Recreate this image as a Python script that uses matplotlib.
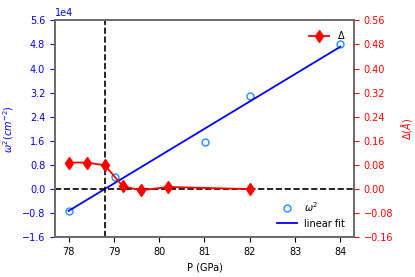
import numpy as np
import matplotlib
matplotlib.use("Agg")
import matplotlib.pyplot as plt

# omega^2 data (cm^-2)
p_w = [78.0, 79.02, 81.02, 82.0, 84.0]
w2 = [-7200, 4000, 15500, 31000, 48000]

# Delta data (Angstrom)
p_d = [78.0, 78.4, 78.8, 79.2, 79.6, 80.2, 82.0]
delta = [0.088, 0.088, 0.079, 0.009, -0.004, 0.007, 0.0]

p_crit = 78.8

plt.rcParams['font.size'] = 7

fig = plt.figure(figsize=(4.15, 2.77), dpi=100)
ax1 = fig.add_axes([0.1325, 0.1433, 0.7205, 0.7834])

# linear fit
coef = np.polyfit(p_w, w2, 1)
xfit = np.array([min(p_w), max(p_w)])
ax1.plot(p_w, w2, 'o', mfc='none', mec='dodgerblue', ms=5, label=r'$\omega^2$')
ax1.plot(xfit, np.polyval(coef, xfit), color='blue', lw=1.3, label='linear fit')
ax1.axhline(0, color='black', ls='--', lw=1.2)
ax1.axvline(p_crit, color='black', ls='--', lw=1.2)

ax1.set_ylim(-16000, 56000)
ax1.set_yticks(np.arange(-16000, 56001, 8000))
ax1.ticklabel_format(axis='y', style='sci', scilimits=(4, 4))
ax1.yaxis.get_offset_text().set_color('blue')
ax1.tick_params(axis='y', colors='blue')
ax1.tick_params(axis='x', colors='black')
ax1.set_xticks(np.arange(78, 85, 1))
ax1.set_xlabel('P (GPa)')
ax1.set_ylabel(r'$\omega^2 (cm^{-2})$', color='blue')
ax1.legend(loc='lower right', frameon=False)

ax2 = ax1.twinx()
ax2.plot(p_d, delta, color='red', marker='d', ms=6, lw=1.3, label=r'$\Delta$')
ax2.set_ylim(-0.16, 0.56)
ax2.set_yticks(np.arange(-0.16, 0.561, 0.08))
ax2.tick_params(axis='y', colors='red')
ax2.set_ylabel(r'$\Delta(\AA)$', color='red')
ax2.legend(loc='upper right', frameon=False)

for ax in (ax1, ax2):
    for s in ax.spines.values():
        s.set_color('dimgray')
        s.set_linewidth(1.2)

fig.savefig('out.png', dpi=100)
